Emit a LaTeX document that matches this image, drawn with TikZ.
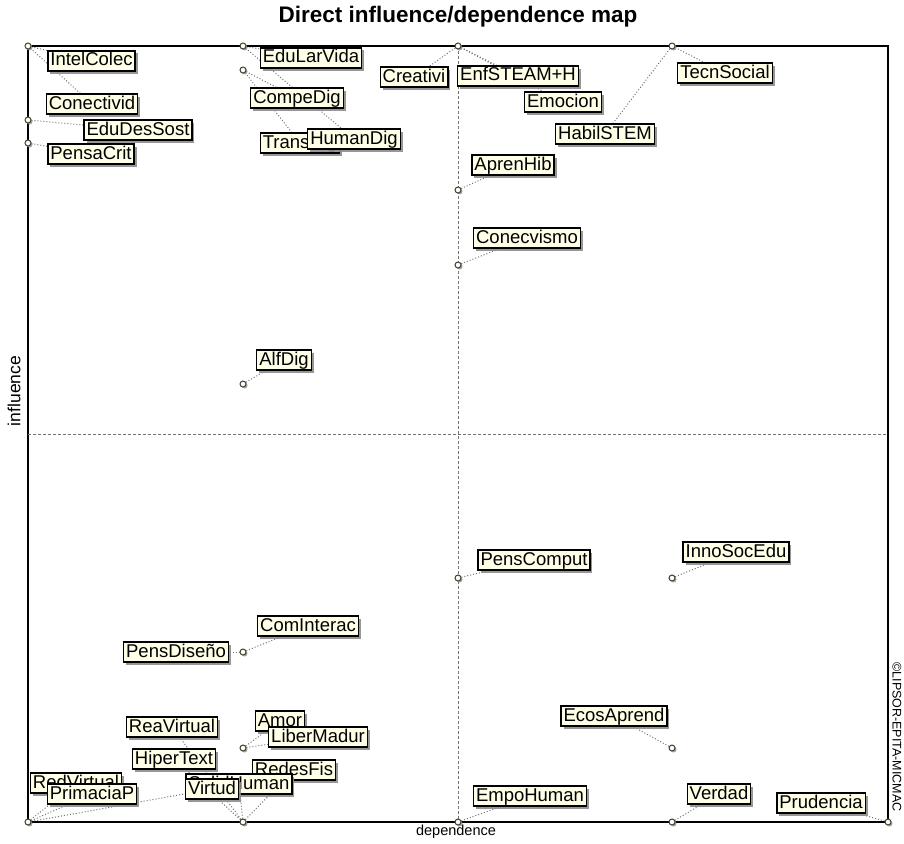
\documentclass[tikz,border=0pt]{standalone}
\usepackage{fontspec}
\setmainfont{Liberation Sans}
\usetikzlibrary{shadows,backgrounds}

\begin{document}
\begin{tikzpicture}[x=1pt,y=-1pt,
    var/.style={draw=black,line width=1.3pt,fill=yellow!10,inner xsep=2.5pt,inner ysep=1.5pt,
      text height=13.5pt,text depth=3.5pt,font=\fontsize{18.5}{19}\selectfont,
      drop shadow={shadow xshift=2.5pt,shadow yshift=-2.5pt,fill=black!45,opacity=0.9}},
    pt/.style={circle,draw=black!75,fill=yellow!10,line width=1pt,inner sep=0pt,minimum size=6pt,
      drop shadow={shadow xshift=1.5pt,shadow yshift=-1.5pt,fill=black!40,opacity=0.9}},
    link/.style={dotted,black!55,line width=1pt}]
    \useasboundingbox (0,0) rectangle (904,843);
    \node[font=\bfseries\fontsize{22.5}{23}\selectfont] (title) at (458,17) {Direct influence/dependence map};
    \draw[line width=1.3pt] (28,46) rectangle (888,822);
    \draw[densely dashed,black!55,line width=0.7pt] (458,46) -- (458,822) (28,434) -- (888,434);
    \node[rotate=90,font=\fontsize{17.5}{18}\selectfont] (ylab) at (14,391) {influence};
    \node[font=\fontsize{14.5}{15}\selectfont] (xlab) at (456,832) {dependence};
    \node[rotate=-90,font=\fontsize{12.5}{13}\selectfont] (copy) at (897,737) {©LIPSOR-EPITA-MICMAC};

    \node[pt] (pA) at (28,46) {};
    \node[pt] (pB) at (28,120) {};
    \node[pt] (pC) at (28,143) {};
    \node[pt] (pD) at (243,46) {};
    \node[pt] (pE) at (243,70) {};
    \node[pt] (pF) at (458,46) {};
    \node[pt] (pG) at (672,46) {};
    \node[pt] (pH) at (458,190) {};
    \node[pt] (pI) at (458,265) {};
    \node[pt] (pJ) at (243,384) {};
    \node[pt] (pK) at (458,578) {};
    \node[pt] (pL) at (672,578) {};
    \node[pt] (pM) at (243,652) {};
    \node[pt] (pN) at (243,748) {};
    \node[pt] (pO) at (672,748) {};
    \node[pt] (pP) at (28,822) {};
    \node[pt] (pQ) at (243,822) {};
    \node[pt] (pR) at (458,822) {};
    \node[pt] (pS) at (672,822) {};
    \node[pt] (pT) at (888,822) {};

    \node[var] (intel) at (91.5,61) {IntelColec};
    \node[var] (conect) at (92,104) {Conectivid};
    \node[var] (edudes) at (138,130) {EduDesSost};
    \node[var] (pensa) at (91,154) {PensaCrit};
    \node[var] (edular) at (311,58) {EduLarVida};
    \node[var] (compe) at (297,98) {CompeDig};
    \node[var] (trans) at (300,143) {TransDig};
    \node[var] (humandig) at (354,139) {HumanDig};
    \node[var] (creativi) at (414,77) {Creativi};
    \node[var] (enf) at (518,76) {EnfSTEAM+H};
    \node[var] (emocion) at (563,102) {Emocion};
    \node[var] (habil) at (605,134) {HabilSTEM};
    \node[var] (tecn) at (725,73) {TecnSocial};
    \node[var] (apren) at (513,165) {AprenHib};
    \node[var] (conecv) at (527,238) {Conecvismo};
    \node[var] (alfdig) at (284,360) {AlfDig};
    \node[var] (penscomp) at (534,560) {PensComput};
    \node[var] (innosoc) at (736,552) {InnoSocEdu};
    \node[var] (cominter) at (308,626) {ComInterac};
    \node[var] (pensdis) at (176,652) {PensDiseño};
    \node[var] (reavirt) at (172,727) {ReaVirtual};
    \node[var] (hiper) at (174,759) {HiperText};
    \node[var] (amor) at (280,721) {Amor};
    \node[var] (liber) at (318,737) {LiberMadur};
    \node[var] (redes) at (294,770) {RedesFis};
    \node[var] (human) at (239,784) {SolidHuman};
    \node[var] (virtud) at (212,789) {Virtud};
    \node[var] (redvirt) at (76,783) {RedVirtual};
    \node[var] (primacia) at (92,794) {PrimaciaP};
    \node[var] (ecos) at (614,716) {EcosAprend};
    \node[var] (empo) at (530,796) {EmpoHuman};
    \node[var] (verdad) at (719,794) {Verdad};
    \node[var] (prudencia) at (821,803) {Prudencia};

    \begin{scope}[on background layer]
      \foreach \p/\l in {pA/intel,pA/conect,pB/edudes,pC/pensa,pD/edular,pD/humandig,pE/compe,pE/trans,
          pF/creativi,pF/enf,pF/emocion,pG/tecn,pG/habil,pH/apren,pI/conecv,pJ/alfdig,pK/penscomp,
          pL/innosoc,pM/cominter,pM/pensdis,pN/amor,pN/liber,pO/ecos,pP/redvirt,pP/primacia,pP/virtud,
          pQ/reavirt,pQ/hiper,pQ/redes,pQ/human,pR/empo,pS/verdad,pT/prudencia}
        \draw[link] (\p) -- (\l);
    \end{scope}
\end{tikzpicture}
\end{document}
